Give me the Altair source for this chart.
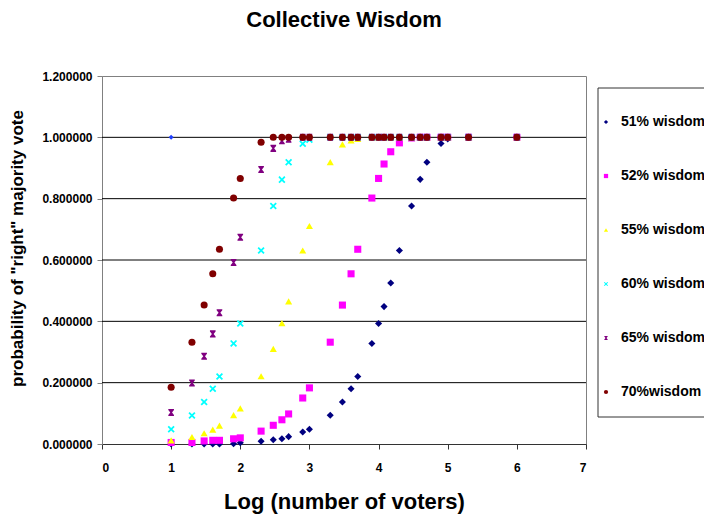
import altair as alt
import pandas as pd
import numpy as np

voters = [10, 20, 30, 40, 50, 80, 100, 200, 300, 400, 500, 800, 1000, 2000, 3000, 4000,
          5000, 8000, 10000, 12000, 15000, 20000, 30000, 40000, 50000, 80000, 100000,
          200000, 1000000]

series_names = ["51% wisdom", "52% wisdom", "55% wisdom", "60% wisdom", "65% wisdom", "70%wisdom"]

p51 = [0.000, 0.000, 0.000, 0.000, 0.000, 0.001, 0.004, 0.009, 0.014, 0.017, 0.024, 0.039,
       0.048, 0.094, 0.137, 0.180, 0.220, 0.328, 0.393, 0.448, 0.525, 0.631, 0.776, 0.863,
       0.919, 0.980, 0.995, 1.000, 1.000]
p52 = [0.005, 0.005, 0.010, 0.012, 0.012, 0.017, 0.020, 0.042, 0.061, 0.079, 0.098, 0.150,
       0.183, 0.332, 0.453, 0.555, 0.635, 0.802, 0.866, 0.913, 0.953, 0.982, 0.998, 1.000,
       1.000, 1.000, 1.000, 1.000, 1.000]
p55 = [0.012, 0.023, 0.035, 0.047, 0.060, 0.094, 0.116, 0.221, 0.310, 0.394, 0.465, 0.631,
       0.711, 0.919, 0.977, 0.990, 0.995, 1.000, 1.000, 1.000, 1.000, 1.000, 1.000, 1.000,
       1.000, 1.000, 1.000, 1.000, 1.000]
p60 = [0.048, 0.093, 0.137, 0.180, 0.220, 0.328, 0.393, 0.631, 0.776, 0.862, 0.919, 0.979,
       0.992, 1.000, 1.000, 1.000, 1.000, 1.000, 1.000, 1.000, 1.000, 1.000, 1.000, 1.000,
       1.000, 1.000, 1.000, 1.000, 1.000]
p65 = [0.103, 0.199, 0.286, 0.359, 0.428, 0.592, 0.674, 0.895, 0.964, 0.989, 0.994, 1.000,
       1.000, 1.000, 1.000, 1.000, 1.000, 1.000, 1.000, 1.000, 1.000, 1.000, 1.000, 1.000,
       1.000, 1.000, 1.000, 1.000, 1.000]
p70 = [0.185, 0.332, 0.453, 0.555, 0.635, 0.802, 0.866, 0.984, 1.000, 1.000, 1.000, 1.000,
       1.000, 1.000, 1.000, 1.000, 1.000, 1.000, 1.000, 1.000, 1.000, 1.000, 1.000, 1.000,
       1.000, 1.000, 1.000, 1.000, 1.000]

stray_x = [1.0]
stray_y = [1.0]

y_ticks = [0.0, 0.2, 0.4, 0.6, 0.8, 1.0, 1.2]
grid_vals = [0.2, 0.4, 0.6, 0.8, 1.0]
x_ticks = [0, 1, 2, 3, 4, 5, 6, 7]

colors = ["#000080", "#FF00FF", "#FFFF00", "#00FFFF", "#800080", "#800000"]
x_shape = "M-1,-0.65L-0.65,-1L0,-0.35L0.65,-1L1,-0.65L0.35,0L1,0.65L0.65,1L0,0.35L-0.65,1L-1,0.65L-0.35,0Z"
hour_shape = "M-0.8,-1L0.8,-1L0.8,-0.7L0.25,0L0.8,0.7L0.8,1L-0.8,1L-0.8,0.7L-0.25,0L-0.8,-0.7Z"
shapes = ["diamond", "square", "triangle-up", x_shape, hour_shape, "circle"]

rows = []
for name, vals in zip(series_names, [p51, p52, p55, p60, p65, p70]):
    for n, v in zip(voters, vals):
        rows.append({"logn": float(np.log10(n)), "p": v, "series": name})
df = pd.DataFrame(rows)

FONT = "Liberation Sans"

xscale = alt.Scale(domain=[0, 7], nice=False, zero=False)
yscale = alt.Scale(domain=[0, 1.2], nice=False)

grid = alt.Chart(pd.DataFrame({"g": grid_vals})).mark_rule(color="#000000", strokeWidth=1).encode(
    y=alt.Y("g:Q", scale=yscale)
)

points = alt.Chart(df).mark_point(filled=True, opacity=1, size=50, strokeWidth=0).encode(
    x=alt.X("logn:Q", scale=xscale,
            axis=alt.Axis(values=x_ticks, format="d", title="Log (number of voters)",
                          titleFont=FONT, titleFontSize=22, titleFontWeight="bold",
                          titleX=242, titleY=57, titleBaseline="middle", titleAlign="center",
                          labelFont=FONT, labelFontSize=12, labelFontWeight="bold",
                          labelColor="#000", labelPadding=13, tickSize=5, tickColor="#333",
                          domainColor="#333", grid=False)),
    y=alt.Y("p:Q", scale=yscale,
            axis=alt.Axis(values=y_ticks, format=".6f",
                          title='probability of "right" majority vote',
                          titleFont=FONT, titleFontSize=17, titleFontWeight="bold",
                          titleX=-85, titleY=172, titleAngle=-90, titleAlign="center",
                          titleBaseline="middle",
                          labelFont=FONT, labelFontSize=12, labelFontWeight="bold",
                          labelColor="#000", labelPadding=5, tickSize=5, tickColor="#808080",
                          domainColor="#808080", grid=False)),
    color=alt.Color("series:N", scale=alt.Scale(domain=series_names, range=colors),
                    legend=alt.Legend(title=None, orient="none", legendX=497, legendY=39,
                                      symbolSize=18, labelFont=FONT, labelFontSize=14,
                                      labelFontWeight="bold", labelColor="#000",
                                      labelOffset=8, rowPadding=40, symbolStrokeWidth=0,
                                      labelBaseline="middle")),
    shape=alt.Shape("series:N", scale=alt.Scale(domain=series_names, range=shapes)),
)

stray = alt.Chart(pd.DataFrame({"x": stray_x, "y": stray_y})).mark_point(
    filled=True, opacity=1, size=25, shape="diamond", color="#1f3fff", strokeWidth=0
).encode(x=alt.X("x:Q", scale=xscale), y=alt.Y("y:Q", scale=yscale))

legend_box = alt.Chart(pd.DataFrame({"a": [0]})).mark_rect(
    fill=None, stroke="#333", strokeWidth=1, clip=False
).encode(x=alt.value(496), x2=alt.value(640), y=alt.value(12), y2=alt.value(341))

chart = alt.layer(grid, stray, points, legend_box).properties(
    width=484, height=368,
    padding={"left": 94, "top": 68, "right": 118, "bottom": 70},
    autosize=alt.AutoSizeParams(type="none"),
    title=alt.TitleParams("Collective Wisdom", font=FONT, fontSize=22, fontWeight="bold",
                          anchor="middle", offset=38, color="#000"),
).configure_view(stroke="#808080", strokeWidth=1)

chart.save("out.html", embed_options={"renderer": "svg", "actions": False})
